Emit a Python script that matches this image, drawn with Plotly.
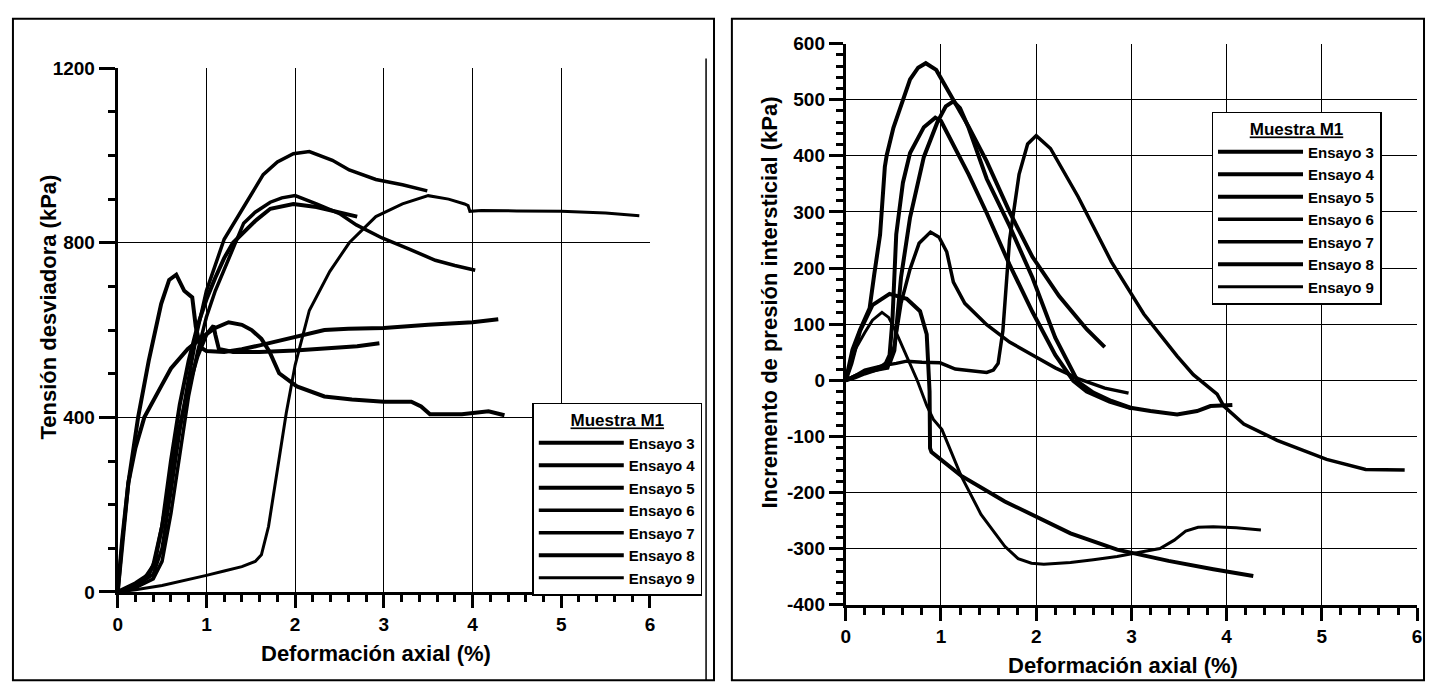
import plotly.graph_objects as go

W, H = 1431, 699
FONT = "Liberation Sans"

# ---------------- Left panel: Tensión desviadora ----------------
left_names = ["Ensayo 3", "Ensayo 4", "Ensayo 5", "Ensayo 6", "Ensayo 7", "Ensayo 8", "Ensayo 9"]

L3_x = [0, 0.05, 0.12, 0.23, 0.35, 0.49, 0.58, 0.66, 0.75, 0.84, 0.88, 0.935, 1.0, 1.2, 1.4, 1.6, 1.8, 2.0, 2.33, 2.6, 3.0, 3.5, 4.0, 4.29]
L3_y = [0, 100, 250, 400, 530, 660, 715, 727, 690, 675, 608, 560, 552, 550, 556, 565, 575, 585, 600, 603, 605, 612, 618, 625]

L4_x = [0, 0.05, 0.12, 0.2, 0.3, 0.4, 0.5, 0.6, 0.79, 0.97, 1.1, 1.25, 1.4, 1.51, 1.62, 1.71, 1.82, 2.02, 2.33, 2.64, 3.0, 3.31, 3.42, 3.52, 3.88, 4.18, 4.36]
L4_y = [0, 120, 250, 330, 400, 440, 475, 512, 557, 586, 605, 618, 612, 600, 580, 551, 501, 471, 448, 441, 436, 436, 425, 407, 407, 414, 405]

L5_x = [0, 0.2, 0.35, 0.42, 0.5, 0.6, 0.7, 0.8, 0.9, 1.0, 1.08, 1.1, 1.14, 1.3, 1.6, 2.0, 2.4, 2.7, 2.95]
L5_y = [0, 20, 40, 70, 150, 270, 380, 470, 540, 590, 610, 590, 557, 550, 550, 553, 558, 563, 570]

L6_x = [0, 0.2, 0.4, 0.5, 0.6, 0.7, 0.8, 0.9, 1.0, 1.1, 1.2, 1.42, 1.64, 1.8, 1.98, 2.16, 2.42, 2.61, 2.91, 3.21, 3.49]
L6_y = [0, 15, 40, 100, 230, 370, 490, 600, 690, 750, 808, 882, 956, 985, 1004, 1009, 989, 967, 945, 933, 919]

L7_x = [0, 0.2, 0.4, 0.5, 0.6, 0.7, 0.8, 0.9, 1.0, 1.1, 1.2, 1.3, 1.42, 1.55, 1.72, 1.85, 2.0, 2.24, 2.5, 2.69, 2.98, 3.28, 3.58, 3.8, 4.03]
L7_y = [0, 10, 30, 70, 180, 320, 450, 550, 630, 690, 740, 785, 845, 870, 893, 903, 908, 889, 867, 841, 811, 786, 760, 748, 737]

L8_x = [0, 0.15, 0.3, 0.4, 0.5, 0.6, 0.7, 0.8, 0.9, 1.0, 1.1, 1.2, 1.3, 1.42, 1.55, 1.72, 1.98, 2.24, 2.54, 2.7]
L8_y = [0, 10, 30, 60, 150, 300, 430, 530, 610, 670, 720, 765, 800, 823, 850, 878, 889, 882, 867, 860]

L9_x = [0, 0.2, 0.5, 0.8, 1.0, 1.2, 1.4, 1.55, 1.62, 1.7, 1.8, 1.9, 2.0, 2.16, 2.39, 2.61, 2.91, 3.21, 3.5, 3.73, 3.91, 3.95, 3.97, 4.1, 4.5, 5.0, 5.5, 5.88]
L9_y = [0, 5, 15, 28, 38, 48, 58, 70, 85, 150, 280, 410, 520, 645, 734, 800, 860, 889, 908, 900, 889, 885, 872, 874, 873, 872, 868, 862]

left_series = [(L3_x, L3_y), (L4_x, L4_y), (L5_x, L5_y), (L6_x, L6_y), (L7_x, L7_y), (L8_x, L8_y), (L9_x, L9_y)]

# ---------------- Right panel: Incremento de presión intersticial ----------------
R3_x = [0, 0.07, 0.15, 0.22, 0.25, 0.3, 0.36, 0.41, 0.43, 0.5, 0.57, 0.675, 0.76, 0.84, 0.95, 1.1, 1.29, 1.48, 1.72, 1.96, 2.24, 2.53, 2.72]
R3_y = [0, 54, 90, 117, 128, 190, 259, 380, 401, 450, 486, 536, 557, 565, 553, 509, 452, 390, 300, 220, 150, 91, 59]

R4_x = [0, 0.1, 0.2, 0.3, 0.38, 0.46, 0.51, 0.58, 0.675, 0.82, 0.96, 1.05, 1.13, 1.2, 1.29, 1.48, 1.72, 1.96, 2.2, 2.44, 2.6, 2.79, 2.99, 3.2, 3.48, 3.69, 3.83, 4.06]
R4_y = [0, 5, 12, 18, 22, 30, 53, 183, 290, 398, 459, 488, 497, 485, 450, 359, 275, 183, 76, -3, -22, -37, -49, -55, -61, -55, -46, -44]

R5_x = [0, 0.1, 0.2, 0.3, 0.38, 0.42, 0.46, 0.49, 0.53, 0.6, 0.675, 0.82, 0.94, 1.0, 1.1, 1.29, 1.48, 1.72, 1.96, 2.2, 2.39, 2.53, 2.77, 3.0]
R5_y = [0, 8, 15, 20, 25, 30, 45, 107, 260, 352, 405, 451, 468, 462, 428, 367, 298, 206, 122, 45, -1, -20, -38, -50]

R6_x = [0, 0.1, 0.2, 0.39, 0.53, 0.64, 0.8, 0.99, 1.15, 1.3, 1.48, 1.55, 1.6, 1.65, 1.72, 1.82, 1.91, 2.0, 2.15, 2.44, 2.79, 3.13, 3.48, 3.65, 3.83, 3.9, 3.97, 4.18, 4.53, 5.05, 5.46, 5.87]
R6_y = [0, 8, 18, 26, 30, 34, 32, 31, 20, 17, 14, 18, 30, 88, 250, 367, 421, 436, 413, 327, 211, 118, 43, 10, -14, -25, -46, -78, -107, -141, -159, -160]

R7_x = [0, 0.1, 0.2, 0.3, 0.38, 0.44, 0.51, 0.58, 0.675, 0.77, 0.89, 0.98, 1.06, 1.13, 1.25, 1.48, 1.72, 1.96, 2.2, 2.44, 2.72, 2.97]
R7_y = [0, 8, 14, 18, 20, 22, 61, 137, 198, 244, 264, 255, 229, 175, 137, 99, 68, 45, 22, 3, -14, -23]

R8_x = [0, 0.06, 0.15, 0.28, 0.46, 0.64, 0.78, 0.85, 0.88, 0.885, 0.9, 0.97, 1.21, 1.67, 2.01, 2.36, 2.85, 3.39, 3.86, 4.28]
R8_y = [0, 30, 88, 134, 154, 145, 123, 82, -20, -121, -128, -138, -170, -216, -245, -273, -302, -322, -337, -349]

R9_x = [0, 0.05, 0.1, 0.2, 0.28, 0.38, 0.45, 0.52, 0.58, 0.66, 0.75, 0.85, 0.92, 1.01, 1.21, 1.42, 1.67, 1.81, 1.95, 2.08, 2.36, 2.6, 2.85, 3.1, 3.3, 3.45, 3.57, 3.7, 3.86, 4.1, 4.36]
R9_y = [0, 28, 55, 85, 107, 121, 112, 89, 66, 35, 0, -45, -70, -88, -170, -239, -296, -318, -326, -328, -325, -320, -314, -306, -300, -285, -269, -262, -261, -263, -267]

right_series = [(R3_x, R3_y), (R4_x, R4_y), (R5_x, R5_y), (R6_x, R6_y), (R7_x, R7_y), (R8_x, R8_y), (R9_x, R9_y)]
right_names = ["Ensayo 3", "Ensayo 4", "Ensayo 5", "Ensayo 6", "Ensayo 7", "Ensayo 8", "Ensayo 9"]

# tick labels
x_ticks = [0, 1, 2, 3, 4, 5, 6]
left_y_ticks = [0, 400, 800, 1200]
right_y_ticks = [-400, -300, -200, -100, 0, 100, 200, 300, 400, 500, 600]

widths = [4, 4, 4, 3.5, 3.5, 4, 3]

fig = go.Figure()
for (xs, ys), name, w in zip(left_series, left_names, widths):
    fig.add_trace(go.Scatter(x=xs, y=ys, mode="lines", name=name, xaxis="x", yaxis="y",
                             line=dict(color="black", width=w), legend="legend"))
for (xs, ys), name, w in zip(right_series, right_names, widths):
    fig.add_trace(go.Scatter(x=xs, y=ys, mode="lines", name=name, xaxis="x2", yaxis="y2",
                             line=dict(color="black", width=w), legend="legend2"))

px = lambda p: p / W
py = lambda p: 1 - p / H
bold = lambda vals: ["<b>%g</b>" % v for v in vals]

tickfont = dict(family=FONT, size=19, color="black", weight=700)
common = dict(showline=True, linecolor="black", linewidth=3, showgrid=True, gridcolor="black",
              gridwidth=1, zeroline=False, ticks="outside", tickcolor="black", tickwidth=3,
              tickfont=tickfont, fixedrange=True, tickmode="array")

LX = [px(113.5), px(649.5)]
LY = [py(600), py(60)]
RX = [px(846.7), px(1422)]
RY = [py(613.1), py(34.6)]


def minor(step):
    return dict(tickmode="linear", tick0=0, dtick=step, ticks="outside", ticklen=7,
                tickcolor="black", tickwidth=3, showgrid=False)


fig.update_layout(
    width=W, height=H, margin=dict(l=0, r=0, t=0, b=0),
    paper_bgcolor="white", plot_bgcolor="white",
    xaxis=dict(domain=LX, range=[0, 6], tickvals=x_ticks, ticktext=bold(x_ticks),
               ticklen=13, anchor="y", minor=minor(0.2), **common),
    yaxis=dict(domain=LY, range=[0, 1200], tickvals=left_y_ticks,
               ticktext=bold(left_y_ticks), ticklen=16, anchor="x", minor=minor(100), **common),
    xaxis2=dict(domain=RX, range=[0, 6], tickvals=x_ticks, ticktext=bold(x_ticks),
                ticklen=13, anchor="y2", minor=minor(0.2), **common),
    yaxis2=dict(domain=RY, range=[-400, 600], tickvals=right_y_ticks,
                ticktext=bold(right_y_ticks), ticklen=14, anchor="x2", minor=minor(20), **common),
    legend=dict(x=px(531), y=py(405), xanchor="left", yanchor="top",
                bgcolor="white", bordercolor="black", borderwidth=1.5,
                font=dict(family=FONT, size=15, color="black", weight="bold"),
                title=dict(text="<u>Muestra M1</u>", side="top center",
                           font=dict(family=FONT, size=17, color="black", weight="bold")),
                itemwidth=85, tracegroupgap=0),
    legend2=dict(x=px(1215), y=py(105), xanchor="left", yanchor="top",
                 bgcolor="white", bordercolor="black", borderwidth=1.5,
                 font=dict(family=FONT, size=15, color="black", weight="bold"),
                 title=dict(text="<u>Muestra M1</u>", side="top center",
                            font=dict(family=FONT, size=17, color="black", weight="bold")),
                 itemwidth=85, tracegroupgap=0),
    showlegend=True,
)

title_font = dict(family=FONT, size=22, color="black", weight="bold")
fig.add_annotation(text="<b>Tensión desviadora (kPa)</b>", x=px(44), y=py(306), xref="paper", yref="paper",
                   textangle=-90, showarrow=False, font=title_font, xanchor="center", yanchor="middle")
fig.add_annotation(text="<b>Deformación axial (%)</b>", x=px(374), y=py(663), xref="paper", yref="paper",
                   showarrow=False, font=title_font, xanchor="center", yanchor="middle")
fig.add_annotation(text="<b>Incremento de presión intersticial (kPa)</b>", x=px(770), y=py(302), xref="paper",
                   yref="paper", textangle=-90, showarrow=False, font=title_font,
                   xanchor="center", yanchor="middle")
fig.add_annotation(text="<b>Deformación axial (%)</b>", x=px(1126), y=py(676), xref="paper", yref="paper",
                   showarrow=False, font=title_font, xanchor="center", yanchor="middle")

# panel frames
fig.add_shape(type="rect", xref="paper", yref="paper", x0=px(8), x1=px(714), y0=py(691), y1=py(9),
              line=dict(color="black", width=2))
fig.add_shape(type="rect", xref="paper", yref="paper", x0=px(732), x1=px(1429), y0=py(691), y1=py(9),
              line=dict(color="black", width=2))
fig.add_shape(type="line", xref="paper", yref="paper", x0=px(706), x1=px(706), y0=py(691), y1=py(50),
              line=dict(color="black", width=1.5))

fig.write_html("out.html")
